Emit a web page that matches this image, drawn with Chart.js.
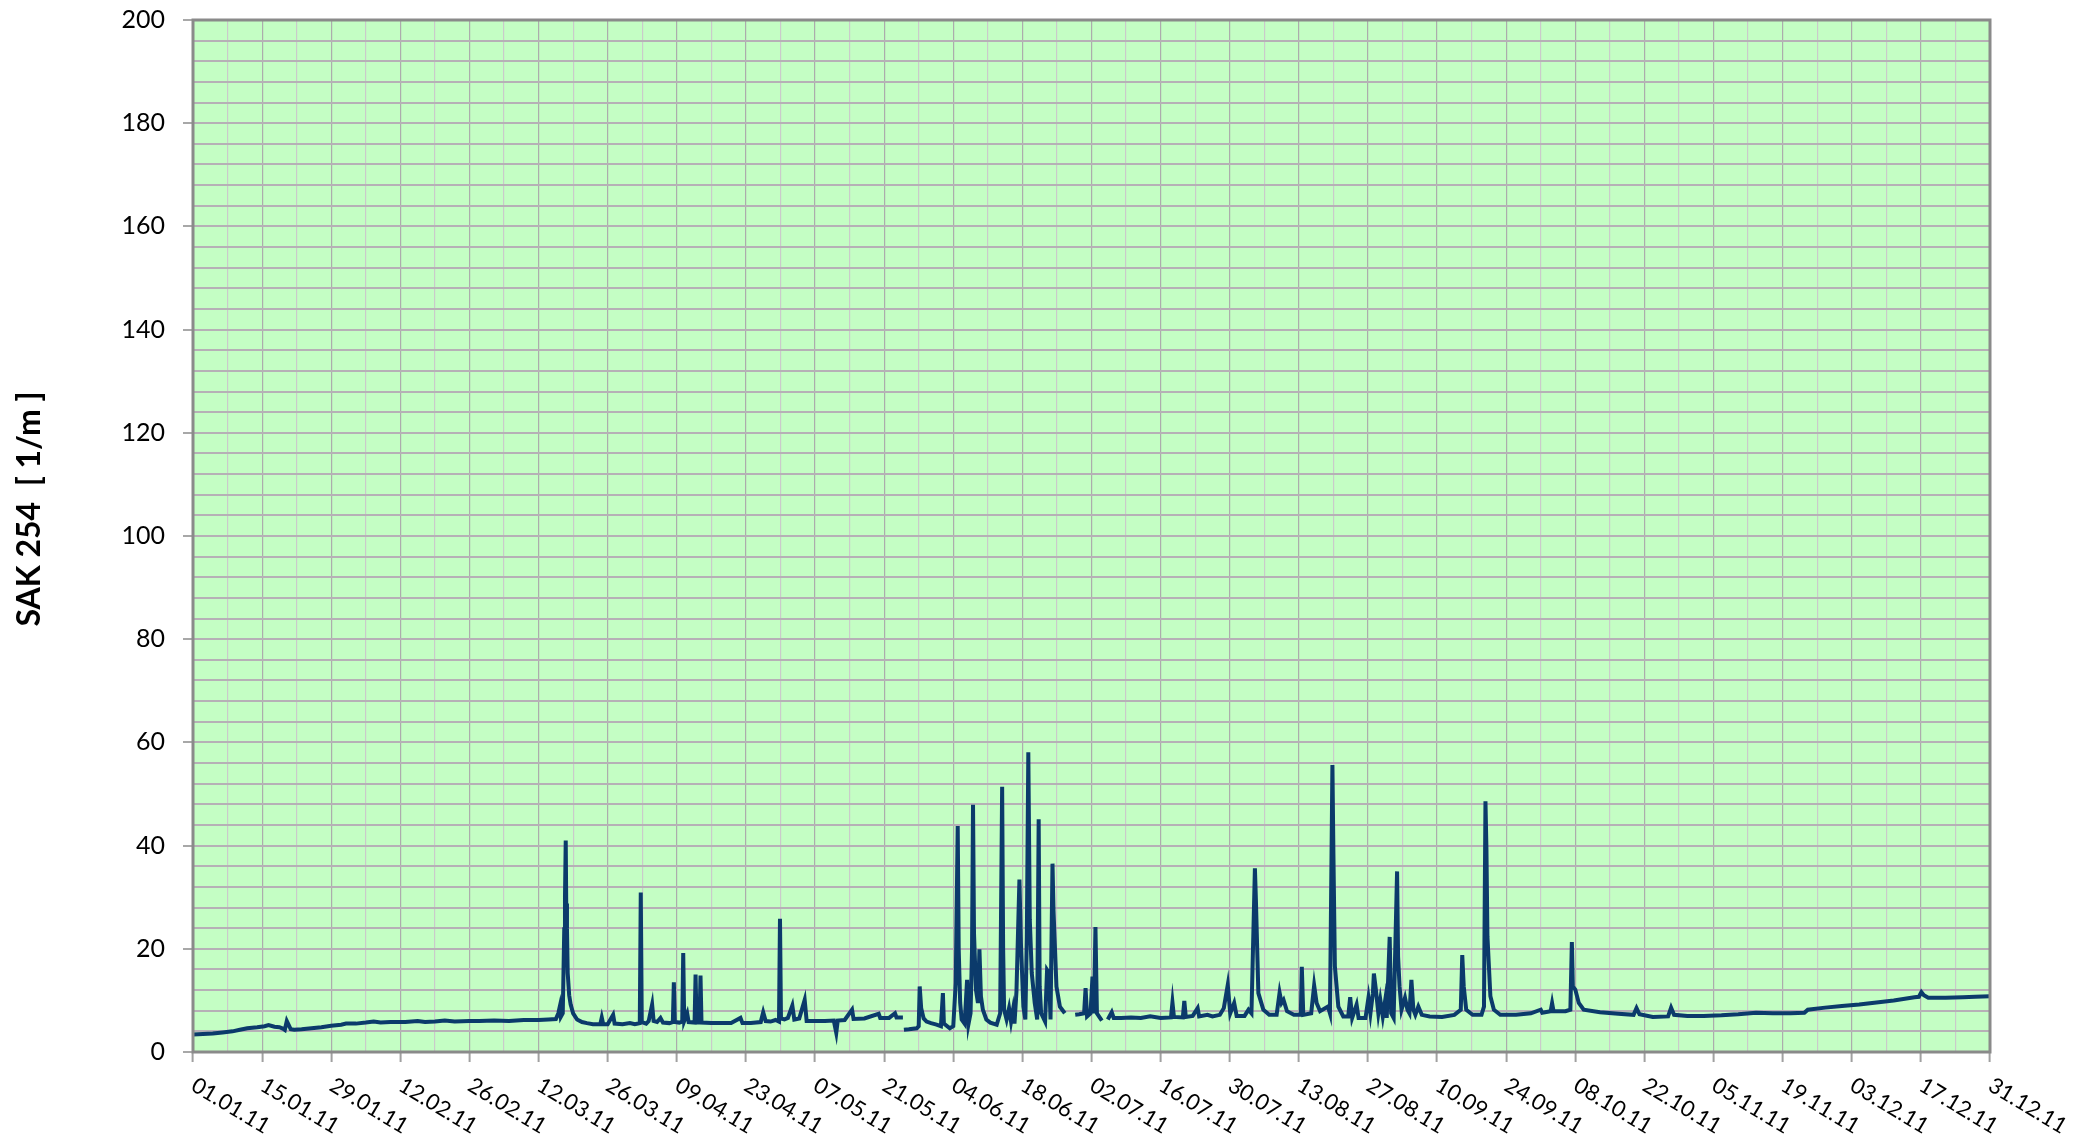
<!DOCTYPE html>
<html><head><meta charset="utf-8">
<script src="https://cdn.jsdelivr.net/npm/chart.js@4.4.0/dist/chart.umd.min.js"></script>
<style>html,body{margin:0;padding:0;background:#fff;} #wrap{width:2089px;height:1136px;position:relative;}</style>
</head><body><div id="wrap"><canvas id="c"></canvas></div>
<script>
// x tick labels (every 14 days from 01.01.11)
const tickLabels = ['01.01.11','15.01.11','29.01.11','12.02.11','26.02.11','12.03.11','26.03.11','09.04.11','23.04.11','07.05.11','21.05.11','04.06.11','18.06.11','02.07.11','16.07.11','30.07.11','13.08.11','27.08.11','10.09.11','24.09.11','08.10.11','22.10.11','05.11.11','19.11.11','03.12.11','17.12.11','31.12.11'];
const yTitle = 'SAK 254  [ 1/m ]';
// day of year (0 = 01.01.11) and SAK 254 value; null = data gap
const days = [
0,2,4,6,8,9.5,11,13,14.5,15.3,16.5,17.5,18.3,18.6,19.0,19.4,19.8,20.5,22,24,26,28,30,31,33,35,36.6,38,40,43,45.5,47,49,51,53,56,58,61,64,67,70,72,73.5,
74.0,74.3,74.5,74.9,75.2,75.35,75.5,75.6,75.75,75.9,76.2,76.5,77,77.8,78.8,79.8,81,82.5,82.8,83.1,84,85.1,85.4,87,88.5,89.5,90.5,90.7,90.9,91.8,92.3,93.0,93.3,94.0,94.7,95.2,96.5,
97.2,97.4,97.6,98.5,99.1,99.3,99.5,100.1,100.4,101.6,101.8,102.0,102.6,102.8,103.0,105,107,109,110.9,111.3,113,115,115.5,116.0,117,118.0,118.7,118.9,119.1,119.8,120.5,121.4,121.8,122.8,123.9,124.3,
126,128,129.8,130.3,130.6,132,133.5,133.8,136,138.9,139.2,141,142.2,142.5,143.8,143.9,
144.0,145,146.6,147.0,147.2,147.5,148,148.6,149.5,150.6,151.5,151.9,152.1,153.3,154.0,154.5,154.9,155.1,155.4,155.7,156.3,156.8,157.1,157.5,157.8,158.0,158.2,158.6,159.0,159.3,159.6,160.0,160.7,161.5,162.8,
163.5,163.9,164.1,164.3,164.8,165.3,165.7,166.1,166.4,166.8,167.4,167.7,168.2,168.6,168.9,169.2,169.5,169.9,170.5,171.0,171.3,171.5,171.8,172.6,173.0,173.4,173.7,174.1,174.3,174.9,175.6,176.6,177.5,
178.7,179.5,180.5,180.8,181.1,181.8,182.2,182.5,182.8,183.1,184.1,184.7,
185.3,186.1,186.5,188,190,192,193.9,196,198.1,198.4,198.7,200.5,200.8,201.1,202.5,203.5,203.8,205.5,206.5,208.0,208.8,209.6,210.1,210.9,211.4,213,213.8,214.4,215.1,215.3,215.8,216.8,218,219.5,220.1,220.5,220.9,221.6,
223,224.4,224.6,224.9,226.5,227.1,227.6,228.3,229.9,230.3,230.8,231.0,231.3,232.0,233.0,234.0,234.4,234.8,235.7,236.1,237.5,238.1,238.5,239.0,239.2,239.6,240.1,240.5,241.0,241.5,241.8,242.4,242.7,243.2,243.9,244.1,244.4,244.8,
245.5,246.0,246.4,246.8,247.2,247.6,248.2,248.9,250.5,253,255.5,256.8,257.1,257.4,257.9,259.2,261.0,261.5,261.8,262.0,262.2,262.8,263.5,264.8,268,271,273.0,273.3,275.0,275.3,275.6,278.0,279.0,279.3,279.5,280.0,280.7,281.7,
285,288.7,291.8,292.4,293.0,295.7,298.8,299.4,300.0,302.7,306,309.6,313,316.6,320,323.6,326.4,327.1,330.6,334,337.5,341,344.5,348.7,349.6,350.1,350.6,351.5,355,358.5,361,364
];
const sak = [
3.4,3.5,3.6,3.8,4.0,4.3,4.6,4.8,5.0,5.2,4.9,4.8,4.5,4.3,6.0,5.2,4.4,4.3,4.4,4.6,4.8,5.1,5.3,5.5,5.5,5.7,5.9,5.7,5.8,5.8,6.0,5.8,5.9,6.1,5.9,6.0,6.0,6.1,6.0,6.2,6.2,6.3,6.4,
7.5,8.8,6.8,7.5,23.8,30,41.0,28.8,24,15.3,11,9.2,7.5,6.3,5.8,5.6,5.4,5.4,6.7,5.4,5.4,7.2,5.5,5.4,5.6,5.4,5.6,30.9,5.8,5.5,6.0,9.2,6.0,5.8,6.6,5.7,5.6,
5.8,13.5,5.8,5.7,5.9,19.2,6.0,7.5,5.8,5.7,15.0,5.7,5.7,14.8,5.7,5.6,5.6,5.6,6.6,5.6,5.6,5.8,7.7,6.0,5.9,6.2,5.9,25.8,6.5,6.3,6.6,9.0,6.3,6.5,10.1,6.0,
6.0,6.0,6.1,3.7,6.1,6.2,8.2,6.4,6.5,7.4,6.6,6.6,7.5,6.7,6.7,null,
4.3,4.4,4.6,5.0,12.7,8.5,6.5,5.9,5.6,5.3,5.0,11.4,5.5,4.6,5.0,13.4,43.8,20,9.5,6.3,5.5,14.0,5.5,7.5,19.8,47.9,23.0,12,9.5,19.9,10.8,8.2,6.3,5.7,5.3,
7.5,51.4,20,8.2,6.3,8.5,5.9,8.2,5.5,11.7,33.4,21.1,8.8,6.3,22.4,58.1,25.6,15.3,9.5,6.3,45.1,12.7,7.5,5.9,15.9,15.3,6.3,36.5,27.5,12.7,8.8,7.5,null,
7.2,7.3,7.5,12.4,6.9,7.5,14.6,7.5,24.2,7.5,6.1,null,
6.3,7.7,6.6,6.6,6.7,6.6,6.9,6.6,6.7,9.6,6.8,6.7,9.9,6.8,7.0,8.5,6.9,7.2,6.9,7.2,8.5,13.0,7.5,9.5,7.0,7.0,8.2,7.5,35.6,29.5,11.4,8.2,7.2,7.2,11.5,9.5,10.1,7.9,
7.2,7.2,16.5,7.2,7.5,12.9,9.5,7.9,8.8,7.5,55.6,38.5,16.6,8.8,6.9,6.9,10.6,6.6,9.2,6.6,6.6,10.5,7.5,11.4,15.2,12.1,7.5,10.1,6.9,10.1,6.6,22.3,7.5,6.6,35.0,18.5,12.7,8.2,
10.5,8.2,7.5,14.0,8.2,7.2,8.8,7.2,6.9,6.8,7.2,8.2,18.8,12.7,8.2,7.2,7.2,8.8,48.6,39.2,22.4,10.8,8.2,7.2,7.2,7.5,8.2,7.6,7.9,9.5,7.9,7.9,8.2,21.3,12.7,12.1,9.5,8.2,
7.7,7.4,7.2,8.5,7.3,6.8,6.9,8.6,7.2,7.0,7.0,7.1,7.3,7.6,7.5,7.5,7.6,8.2,8.6,8.9,9.2,9.6,10.0,10.6,10.7,11.6,11.0,10.5,10.5,10.6,10.7,10.8
];

const points = days.map((d, i) => ({x: d, y: sak[i]}));

const decor = {
  id: 'decor',
  beforeDraw(chart) {
    const {ctx, chartArea: a} = chart;
    ctx.save();
    ctx.fillStyle = '#c4fec4';
    ctx.fillRect(a.left, a.top, a.right - a.left, a.bottom - a.top);
    ctx.restore();
  },
  afterDraw(chart) {
    const {ctx, chartArea: a} = chart;
    const xs = chart.scales.x;
    ctx.save();
    ctx.strokeStyle = '#8a8a8a';
    ctx.lineWidth = 3;
    ctx.strokeRect(a.left, a.top, a.right - a.left, a.bottom - a.top);
    // rotated x labels
    ctx.fillStyle = '#000';
    ctx.font = '22px Lato';
    ctx.textAlign = 'left';
    ctx.textBaseline = 'top';
    xs.ticks.forEach(t => {
      if (t.value % 14 !== 0) return;
      const lbl = tickLabels[t.value / 14];
      if (!lbl) return;
      const px = xs.getPixelForValue(t.value);
      ctx.save();
      ctx.translate(px + 6, a.bottom + 22);
      ctx.rotate(31 * Math.PI / 180);
      ctx.fillText(lbl, 0, 0);
      ctx.restore();
    });
    // y title
    ctx.save();
    ctx.translate(30, 509);
    ctx.rotate(-Math.PI / 2);
    ctx.font = 'bold 32px Lato';
    ctx.textAlign = 'center';
    ctx.textBaseline = 'middle';
    ctx.fillText(yTitle, 0, 0);
    ctx.restore();
    ctx.restore();
  }
};

new Chart(document.getElementById('c'), {
  type: 'line',
  data: { datasets: [{
    data: points,
    borderColor: '#0b3a6b',
    borderWidth: 4,
    pointRadius: 0,
    tension: 0,
    spanGaps: false,
    fill: false
  }]},
  options: {
    responsive: true,
    maintainAspectRatio: false,
    animation: false,
    layout: { padding: { top: 20, right: 99, bottom: 0, left: 0 } },
    plugins: { legend: { display: false }, tooltip: { enabled: false } },
    scales: {
      x: {
        type: 'linear', min: 0, max: 364,
        afterFit(s) { s.height = 84; s.paddingLeft = 0; s.paddingRight = 0; },
        border: { display: false },
        grid: {
          color: c => (c.tick && c.tick.value % 14 === 0) ? '#acacac' : '#cacaca',
          lineWidth: 1.2,
          drawTicks: true, tickLength: 10, tickWidth: 2,
          tickColor: c => (c.tick && c.tick.value % 14 === 0) ? '#a0a0a0' : 'rgba(0,0,0,0)'
        },
        ticks: { stepSize: 7, autoSkip: false, display: false }
      },
      y: {
        min: 0, max: 200,
        afterFit(s) { s.width = 193; s.paddingTop = 0; s.paddingBottom = 0; },
        border: { display: false },
        grid: {
          color: '#b6b0b6', lineWidth: 2,
          drawTicks: true, tickLength: 10, tickWidth: 2,
          tickColor: c => (c.tick && c.tick.value % 20 === 0) ? '#a8a8a8' : 'rgba(0,0,0,0)'
        },
        ticks: {
          stepSize: 4, autoSkip: false, padding: 18, color: '#000',
          font: { family: 'Lato', size: 25 },
          callback: v => (v % 20 === 0 ? String(v) : '')
        }
      }
    }
  },
  plugins: [decor]
});
</script></body></html>
